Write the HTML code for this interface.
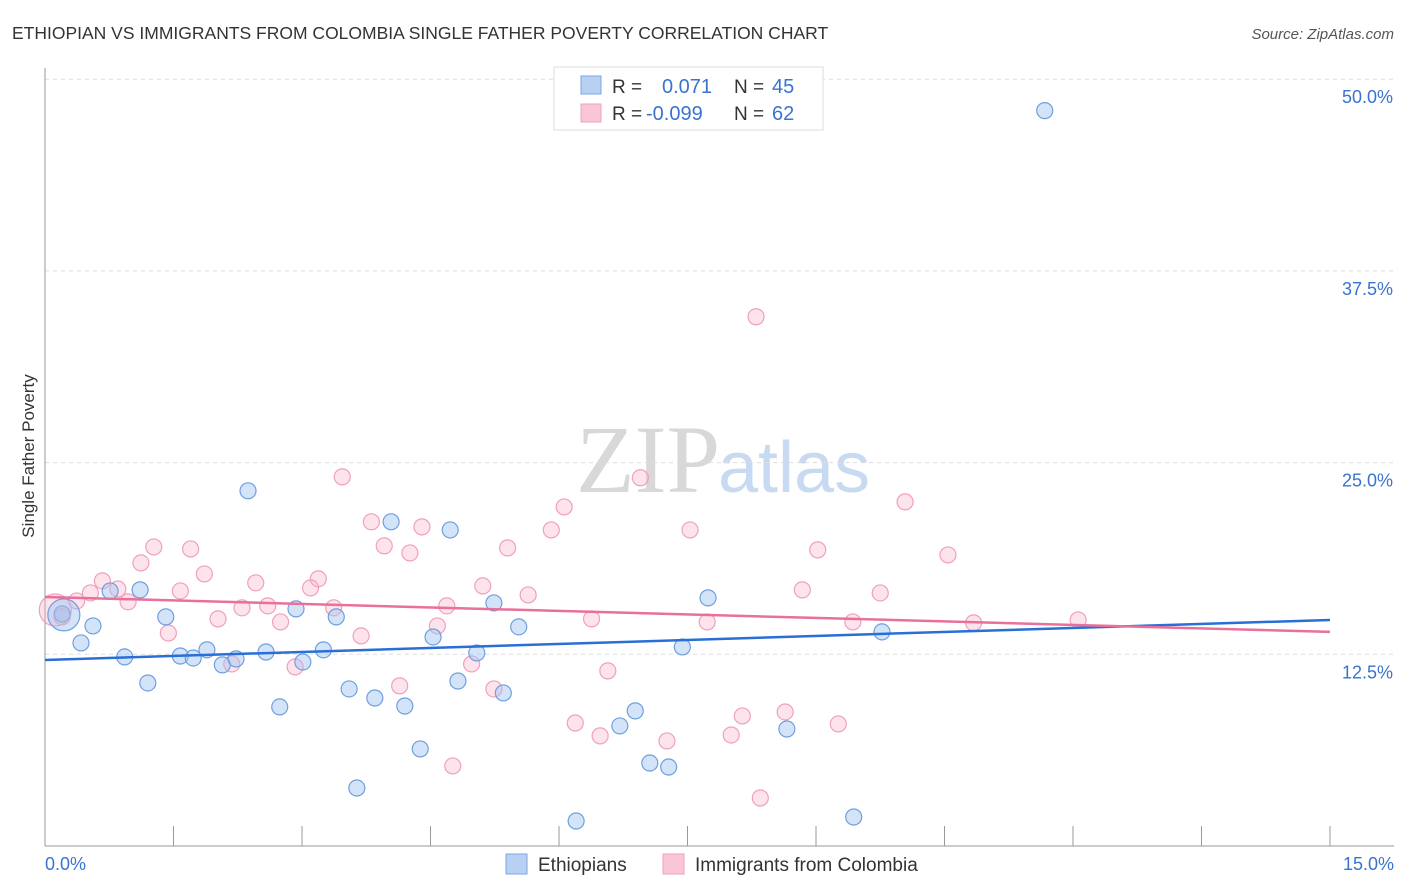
<!DOCTYPE html>
<html><head><meta charset="utf-8"><style>
body{margin:0;background:#fff;font-family:"Liberation Sans",sans-serif}
svg{display:block}
</style></head><body>
<svg id="c" width="1406" height="892" xmlns="http://www.w3.org/2000/svg">
<text x="12" y="39" font-size="17.5" fill="#333">ETHIOPIAN VS IMMIGRANTS FROM COLOMBIA SINGLE FATHER POVERTY CORRELATION CHART</text>
<text x="1394" y="39" font-size="15" fill="#555" text-anchor="end" font-style="italic">Source: ZipAtlas.com</text>
<text x="720" y="492" font-size="96" fill="#d8d8d8" text-anchor="end" font-family="Liberation Serif">ZIP</text>
<text x="718" y="492" font-size="72" fill="#c8daf2">atlas</text>
<g id="grid"></g><g id="axes"></g><g id="pts"></g><g id="lines"></g>
<text transform="translate(34,456) rotate(-90)" font-size="17" fill="#333" text-anchor="middle">Single Father Poverty</text>
<g>
<rect x="554" y="67" width="269" height="63" fill="#fff" stroke="#ddd"/>
<rect x="581" y="76" width="20" height="18" fill="#b8d1f3" stroke="#7aa6e0"/>
<rect x="581" y="104" width="20" height="18" fill="#f9c6d6" stroke="#f0a0bb"/>
<text x="612" y="93" font-size="19" fill="#333">R = </text><text x="662" y="93" font-size="20" fill="#3a73cf">0.071</text>
<text x="734" y="93" font-size="19" fill="#333">N = </text><text x="772" y="93" font-size="20" fill="#3a73cf">45</text>
<text x="612" y="120" font-size="19" fill="#333">R = </text><text x="646" y="120" font-size="20" fill="#3a73cf">-0.099</text>
<text x="734" y="120" font-size="19" fill="#333">N = </text><text x="772" y="120" font-size="20" fill="#3a73cf">62</text>
</g>
<g>
<rect x="506" y="854" width="21" height="20" fill="#b8d1f3" stroke="#7aa6e0"/>
<text x="538" y="871" font-size="19" fill="#333">Ethiopians</text>
<rect x="663" y="854" width="21" height="20" fill="#f9c6d6" stroke="#f0a0bb"/>
<text x="695" y="871" font-size="19" fill="#333">Immigrants from Colombia</text>
</g>
</svg>
<script>
const yTicks=[12.5,25,37.5,50];
const yTickLabels=["12.5%","25.0%","37.5%","50.0%"];
const xTickLabels=["0.0%","15.0%"];
const blueX=[11.67,2.37,4.04,4.73,0.76,1.11,1.41,0.20,0.56,0.42,0.93,1.20,1.58,1.73,1.89,2.07,2.23,2.58,2.93,3.01,3.25,3.40,2.74,3.55,3.85,4.20,4.38,3.64,4.53,4.82,5.04,5.24,5.35,5.53,6.20,6.71,6.89,7.06,7.28,7.44,7.74,8.66,9.44,9.77,0.22];
const blueY=[47.95,23.16,21.14,20.61,16.63,16.70,14.94,15.13,14.35,13.24,12.33,10.63,12.39,12.26,12.79,11.81,12.20,12.65,15.46,12.00,12.79,14.94,9.07,10.24,9.65,9.13,6.33,3.78,13.63,10.76,12.59,15.85,9.98,14.29,1.63,7.83,8.81,5.41,5.15,12.98,16.18,7.63,1.89,13.96,15.07];
const pinkX=[8.30,3.47,6.95,10.04,6.06,3.81,4.40,5.91,7.53,1.27,1.70,3.96,4.26,5.40,9.02,10.54,1.12,1.86,3.19,2.46,0.67,0.85,1.58,0.53,0.37,0.97,3.10,5.11,5.64,2.30,2.60,3.37,4.69,8.84,9.75,2.02,2.75,6.38,7.73,9.43,10.84,12.06,1.44,3.69,4.58,2.92,2.18,4.98,6.57,4.14,5.24,6.19,6.48,7.26,8.01,8.14,8.64,9.26,4.76,8.35,0.12,0.20];
const pinkY=[34.51,24.07,24.01,22.44,22.11,21.14,20.81,20.61,20.61,19.50,19.37,19.57,19.11,19.44,19.31,18.98,18.46,17.74,17.42,17.16,17.29,16.76,16.63,16.50,15.98,15.92,16.83,16.96,16.37,15.53,15.66,15.53,15.66,16.70,16.50,14.81,14.61,14.81,14.61,14.61,14.55,14.74,13.89,13.70,14.35,11.68,11.87,11.87,11.42,10.44,10.24,8.02,7.18,6.85,7.24,8.48,8.74,7.96,5.22,3.13,15.39,14.94];
const blueTrend=[12.13,14.74];
const pinkTrend=[16.24,13.96];
const NS="http://www.w3.org/2000/svg";
const sx=v=>45+v*(1285/15), sy=v=>846-v*(191.7/12.5);
function mk(t,a,p){const e=document.createElementNS(NS,t);for(const k in a)e.setAttribute(k,a[k]);document.getElementById(p).appendChild(e);return e;}
yTicks.forEach((t,i)=>{
 const l=mk('line',{x1:45,x2:1394,y1:sy(t),y2:sy(t),stroke:'#ddd','stroke-dasharray':'4,4'},'grid');
 
 
 const tx=mk('text',{x:1393,y:sy(t)+24,'font-size':18,fill:'#3a73cf','text-anchor':'end'},'axes');
 tx.textContent=yTickLabels[i];
 
 
});
mk('line',{x1:45,x2:45,y1:68,y2:846,stroke:'#999'},'axes');
mk('line',{x1:45,x2:1394,y1:846,y2:846,stroke:'#999'},'axes');
for(let i=1;i<=10;i++){const t=mk('line',{x1:sx(i*1.5),x2:sx(i*1.5),y1:826,y2:846,stroke:'#999'},'axes');}
[[0,45,'start'],[15,1394,'end']].forEach((d,i)=>{const t=mk('text',{x:d[1],y:870,'font-size':18,fill:'#3a73cf','text-anchor':d[2]},'axes');t.textContent=xTickLabels[i];});
function pts(X,Y,fill,stroke,name){X.forEach((x,i)=>{const big=x<0.25&&Math.abs(Y[i]-15.2)<0.4&&i===X.length-(name==='pink'?2:1);const c=mk('circle',{cx:sx(x),cy:sy(Y[i]),r:big?16:8,fill:fill,stroke:stroke,'stroke-width':1.2},'pts');});}
pts(pinkX,pinkY,'rgba(246,175,200,0.35)','#f0a0bb','pink');
pts(blueX,blueY,'rgba(160,196,240,0.45)','#6f9fdf','blue');
const bl=mk('line',{x1:sx(0),y1:sy(blueTrend[0]),x2:sx(15),y2:sy(blueTrend[1]),stroke:'#2a6fd6','stroke-width':2.5},'lines');

const pl=mk('line',{x1:sx(0),y1:sy(pinkTrend[0]),x2:sx(15),y2:sy(pinkTrend[1]),stroke:'#e8709a','stroke-width':2.5},'lines');

</script>
</body></html>
